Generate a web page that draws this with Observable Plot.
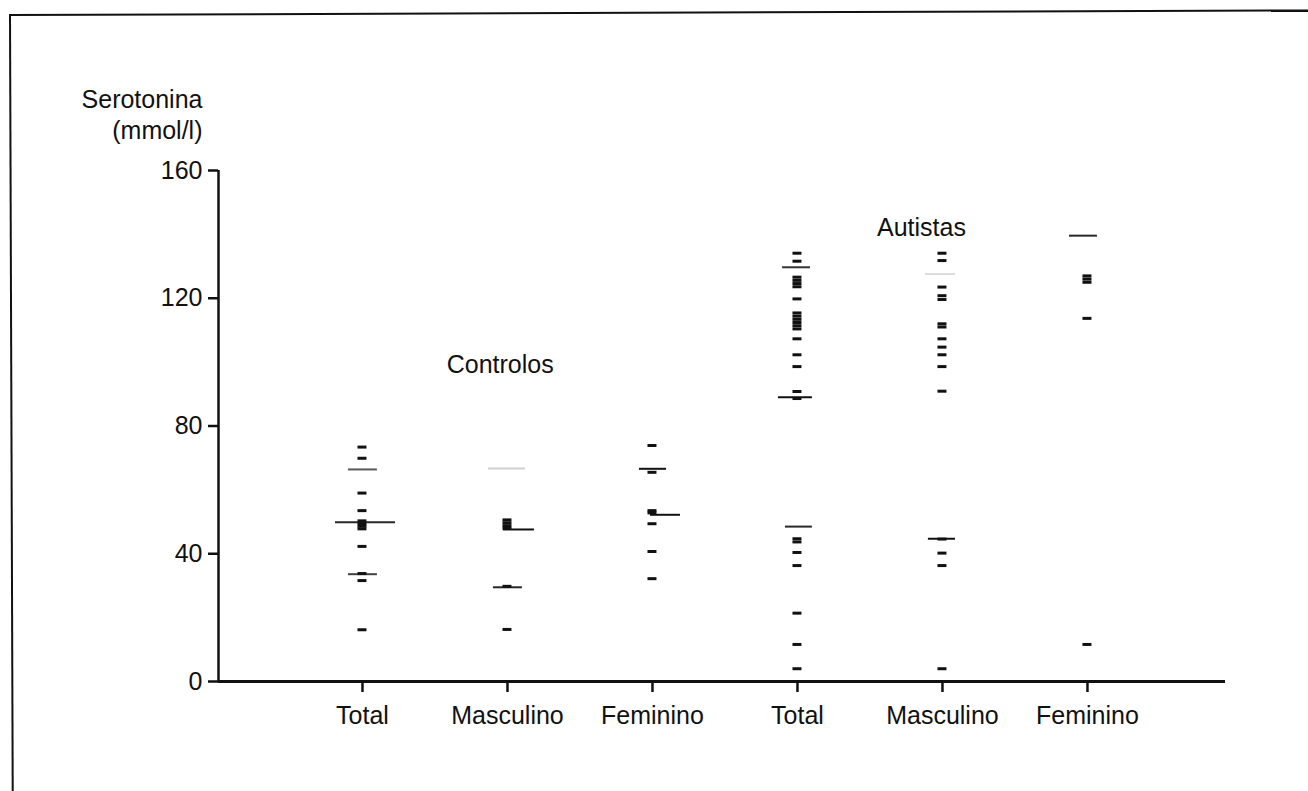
<!DOCTYPE html>
<html>
<head>
<meta charset="utf-8">
<script src="https://cdn.jsdelivr.net/npm/d3@7"></script>
<script src="https://cdn.jsdelivr.net/npm/@observablehq/plot@0.6"></script>
<style>
  html, body { margin: 0; padding: 0; background: #fff; overflow: hidden; }
  #wrap { position: relative; width: 1308px; height: 791px; overflow: hidden; }
  #border { position: absolute; left: 9px; top: 14px; width: 1400px; height: 900px;
            border-left: 2px solid #111; border-top: 2px solid #111;
            transform: rotate(-0.2deg); transform-origin: 0 0; }
  #chart { position: absolute; left: 0; top: 0; }
  svg { font-family: "Liberation Sans", Arial, Helvetica, sans-serif; }
</style>
</head>
<body>
<div id="wrap"><div id="border"></div><div id="chart"></div></div>
<script>
// ---- Categories / tick labels ----
const categories = ["Total", "Masculino", "Feminino", "Total", "Masculino", "Feminino"];
const yTicks = [0, 40, 80, 120, 160];
const yLabelLines = ["Serotonina", "(mmol/l)"];
const groupLabels = ["Controlos", "Autistas"];

// ---- Individual readings (mmol/l), one array per column ----
const controlosTotal     = [73.4, 69.9, 59.0, 53.5, 50.3, 49.4, 48.6, 47.8, 42.3, 33.8, 31.6, 16.2];
const controlosMasculino = [50.6, 49.7, 48.8, 48.0, 29.8, 16.3];
const controlosFeminino  = [73.9, 65.5, 53.5, 52.8, 49.4, 40.7, 32.2];
const autistasTotal      = [134.1, 131.6, 126.6, 125.6, 124.6, 123.6, 119.8, 115.4, 114.4, 113.4,
                            112.4, 111.4, 110.4, 107.3, 102.3, 98.6, 90.8, 88.6, 44.7, 43.7,
                            40.4, 36.3, 21.4, 11.6, 4.0];
const autistasMasculino  = [134.1, 131.8, 123.5, 120.8, 119.6, 112.0, 111.0, 107.3, 104.7, 102.3,
                            98.6, 90.9, 44.6, 40.2, 36.3, 4.0];
const autistasFeminino   = [127.0, 126.0, 125.0, 113.7, 11.6];
const columns = [controlosTotal, controlosMasculino, controlosFeminino,
                 autistasTotal, autistasMasculino, autistasFeminino];

// ---- Mean / SD reference lines ----
const lineCols   = [0, 0, 0, 1, 1, 1, 2, 2, 3, 3, 3, 4, 4, 5];
const lineValues = [66.4, 49.9, 33.6, 66.7, 47.6, 29.5, 66.6, 52.2, 129.7, 89.0, 48.5, 127.6, 44.7, 139.6];

// ---- Styling (kept apart from the data) ----
const lineSpans = [[-0.097, 0.103], [-0.186, 0.228], [-0.097, 0.103],
                   [-0.131, 0.124], [-0.028, 0.186], [-0.097, 0.103],
                   [-0.090, 0.097], [-0.014, 0.193],
                   [-0.103, 0.090], [-0.131, 0.103], [-0.083, 0.103],
                   [-0.117, 0.090], [-0.097, 0.090],
                   [-0.124, 0.069]];
const lineOpacity = [0.7, 0.9, 0.8, 0.2, 1, 0.9, 1, 1, 0.85, 1, 0.9, 0.15, 1, 0.9];
const groupLabelPos = [[0.95, 99], [3.855, 142]];
const dashHalf = 0.031;
const FS = 25;

const points = columns.flatMap((vals, col) => vals.map(v => ({col, v})));
const lines = lineValues.map((v, i) => ({
  v, x1: lineCols[i] + lineSpans[i][0], x2: lineCols[i] + lineSpans[i][1], op: lineOpacity[i]
}));
const xMin = -0.993, xMax = 5.952;

const plot = Plot.plot({
  width: 1308,
  height: 791,
  marginLeft: 218,
  marginRight: 83,
  marginTop: 170,
  marginBottom: 110,
  style: {fontSize: FS + "px", fontFamily: '"Liberation Sans", Arial, Helvetica, sans-serif', color: "#111", background: "transparent"},
  x: {type: "linear", domain: [xMin, xMax], axis: null},
  y: {domain: [0, 160], axis: null},
  marks: [
    Plot.axisY({ticks: yTicks, tickSize: 10, tickPadding: 6, strokeWidth: 2.5, fontSize: FS, label: null, stroke: "#111", fill: "#111"}),
    Plot.axisX({ticks: d3.range(categories.length), tickFormat: i => categories[i], tickSize: 11, tickPadding: 14,
                strokeWidth: 2.5, fontSize: FS, label: null, stroke: "#111", fill: "#111"}),
    Plot.ruleX([xMin], {y1: 0, y2: 160, stroke: "#111", strokeWidth: 2.5}),
    Plot.ruleY([0], {stroke: "#111", strokeWidth: 3}),
    Plot.ruleY(lines, {y: "v", x1: "x1", x2: "x2", stroke: "#111", strokeWidth: 2, strokeOpacity: "op"}),
    Plot.ruleY(points, {y: "v", x1: d => d.col - dashHalf, x2: d => d.col + dashHalf, stroke: "#111", strokeWidth: 3}),
    Plot.text([yLabelLines[0]], {x: xMin, y: 160, text: d => d, dx: -16, dy: -71, textAnchor: "end", fontSize: FS, fill: "#111"}),
    Plot.text([yLabelLines[1]], {x: xMin, y: 160, text: d => d, dx: -16, dy: -40, textAnchor: "end", fontSize: FS, fill: "#111"}),
    Plot.text(groupLabels, {x: (d, i) => groupLabelPos[i][0], y: (d, i) => groupLabelPos[i][1], text: d => d, fontSize: FS, fill: "#111"})
  ]
});
document.getElementById("chart").appendChild(plot);
</script>
</body>
</html>
